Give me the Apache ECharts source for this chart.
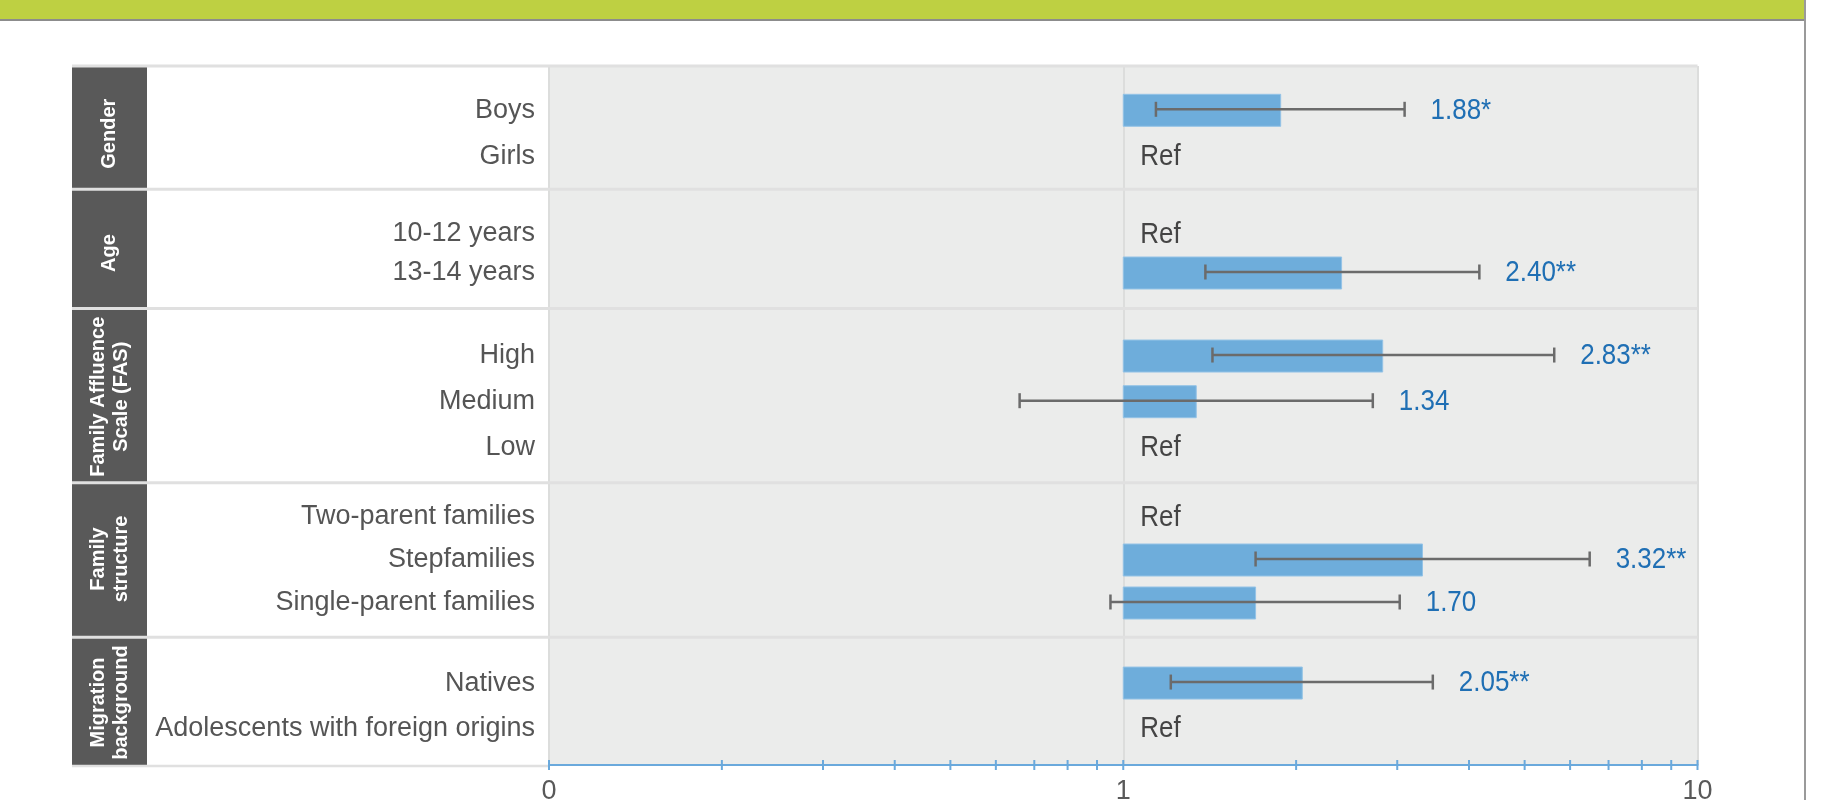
<!DOCTYPE html>
<html>
<head>
<meta charset="utf-8">
<script src="https://cdn.jsdelivr.net/npm/echarts@6/dist/echarts.min.js"></script>
<style>
html,body{margin:0;padding:0;background:#fff;}
#chart{width:1827px;height:800px;}
</style>
</head>
<body>
<div id="chart"></div>
<script>
// ---------- data ----------
const groupNames = ['Gender', 'Age', 'Family Affluence\nScale (FAS)', 'Family\nstructure', 'Migration\nbackground'];
const categories = ['Boys', 'Girls', '10-12 years', '13-14 years', 'High', 'Medium', 'Low',
  'Two-parent families', 'Stepfamilies', 'Single-parent families', 'Natives', 'Adolescents with foreign origins'];
const groupOf = [0, 0, 1, 1, 2, 2, 2, 3, 3, 3, 4, 4];
const oddsRatios = [1.88, 1, 1, 2.40, 2.83, 1.34, 1, 1, 3.32, 1.70, 2.05, 1];
const ciLow = [1.14, null, null, 1.39, 1.43, 0.66, null, null, 1.70, 0.95, 1.21, null];
const ciHigh = [3.09, null, null, 4.17, 5.63, 2.72, null, null, 6.49, 3.03, 3.46, null];
const valueLabels = ['1.88*', 'Ref', 'Ref', '2.40**', '2.83**', '1.34', 'Ref', 'Ref', '3.32**', '1.70', '2.05**', 'Ref'];
const axisTickValues = [0.1, 0.2, 0.3, 0.4, 0.5, 0.6, 0.7, 0.8, 0.9, 1, 2, 3, 4, 5, 6, 7, 8, 9, 10];
const axisTickLabels = ['0', '1', '10'];

// ---------- layout ----------
const W = 1827, H = 800;
const tableLeft = 72, labelColLeft = 147, plotLeft = 549, plotRight = 1697.5;
const tableTop = 66, axisY = 765;
const groupBounds = [66, 189.3, 308.5, 482.7, 637.3];
const rowGrids = [
  { top: 87.1, height: 92.8 },
  { top: 214.5, height: 78 },
  { top: 333.2, height: 137 },
  { top: 495.5, height: 129 },
  { top: 660.4, height: 90.6 }
];
const groupLabelCenters = [133.7, 253, 396.7, 559, 702.5];

const baseFont = '"Liberation Sans", Arial, Helvetica, sans-serif';
const condensedScale = 0.865;
const barColor = '#6eaddb';
const errColor = '#6b6b6b';
const valueColor = '#1f6fb4';
const axisBlue = '#6aa9dc';

const chart = echarts.init(document.getElementById('chart'), null, { renderer: 'canvas' });

const grids = [{ left: plotLeft, width: plotRight - plotLeft, top: tableTop, height: axisY - tableTop, containLabel: false, outerBoundsMode: 'none' }];
rowGrids.forEach(g => grids.push({ left: plotLeft, width: plotRight - plotLeft, top: g.top, height: g.height, containLabel: false, outerBoundsMode: 'none' }));

const xAxes = [{
  gridIndex: 0, type: 'log', logBase: 10, min: 0.1, max: 10,
  axisLine: { show: true, onZero: false, lineStyle: { color: axisBlue, width: 2 } },
  axisTick: { show: false },
  axisLabel: {
    show: true, color: '#595959', fontSize: 27, fontFamily: baseFont, margin: 13,
    formatter: (v, i) => axisTickLabels[i]
  },
  splitLine: { show: true, lineStyle: { color: '#dcdddc', width: 2 } }
}];
const yAxes = [{ gridIndex: 0, type: 'value', min: 0, max: 1, show: false }];

const series = [];
groupNames.forEach((name, gi) => {
  const rows = categories.map((c, k) => k).filter(k => groupOf[k] === gi);
  xAxes.push({ gridIndex: gi + 1, type: 'log', logBase: 10, min: 0.1, max: 10, show: false, splitLine: { show: false } });
  yAxes.push({
    gridIndex: gi + 1, type: 'category', inverse: true,
    data: rows.map(k => categories[k]),
    axisLine: { show: false }, axisTick: { show: false }, splitLine: { show: false },
    axisLabel: { show: true, color: '#555555', fontSize: 27, fontFamily: baseFont, margin: 14 }
  });
  series.push({
    type: 'custom', xAxisIndex: gi + 1, yAxisIndex: gi + 1,
    data: rows.map((k, j) => [oddsRatios[k], j]),
    encode: { x: 0, y: 1 },
    renderItem: (params, api) => {
      const k = rows[params.dataIndex];
      const j = api.value(1);
      const base = api.coord([1, j]);
      const yc = base[1];
      if (ciLow[k] === null) {
        return {
          type: 'text', x: base[0] + 17, y: yc + 0.5, scaleX: condensedScale,
          style: { text: valueLabels[k], fill: '#444444', fontSize: 30, fontFamily: baseFont, align: 'left', verticalAlign: 'middle' }
        };
      }
      const xe = api.coord([api.value(0), j])[0];
      const xl = api.coord([ciLow[k], j])[0];
      const xh = api.coord([ciHigh[k], j])[0];
      const ey = yc - 1;
      return {
        type: 'group',
        children: [
          { type: 'rect', shape: { x: base[0], y: yc - 16, width: xe - base[0], height: 32 },
            style: { fill: barColor, stroke: '#94c3e6', lineWidth: 1 } },
          { type: 'line', shape: { x1: xl, y1: ey, x2: xh, y2: ey }, style: { stroke: errColor, lineWidth: 2.5 } },
          { type: 'line', shape: { x1: xl, y1: ey - 7.5, x2: xl, y2: ey + 7.5 }, style: { stroke: errColor, lineWidth: 2.5 } },
          { type: 'line', shape: { x1: xh, y1: ey - 7.5, x2: xh, y2: ey + 7.5 }, style: { stroke: errColor, lineWidth: 2.5 } },
          { type: 'text', x: xh + 26, y: yc, scaleX: condensedScale,
            style: { text: valueLabels[k], fill: valueColor, fontSize: 30, fontFamily: baseFont, align: 'left', verticalAlign: 'middle' } }
        ]
      };
    },
    z: 3
  });
});

// axis ticks (major + minor) crossing the axis line
series.push({
  type: 'custom', xAxisIndex: 0, yAxisIndex: 0,
  data: axisTickValues.map(v => [v, 0]),
  encode: { x: 0, y: 1 },
  renderItem: (params, api) => {
    const p = api.coord([api.value(0), 0]);
    return { type: 'line', shape: { x1: p[0], y1: p[1] - 5, x2: p[0], y2: p[1] + 5 }, style: { stroke: axisBlue, lineWidth: 2 } };
  },
  z: 4
});

// ---------- decorative layout ----------
const graphics = [
  { type: 'rect', z: -10, shape: { x: 0, y: 0, width: 1804, height: 19 }, style: { fill: '#bed042' } },
  { type: 'rect', z: -10, shape: { x: 0, y: 19, width: 1804, height: 2 }, style: { fill: '#8c8c8c' } },
  { type: 'rect', z: -10, shape: { x: 1804, y: 0, width: 2, height: H }, style: { fill: '#9a9a9a' } },
  { type: 'rect', z: -10, shape: { x: labelColLeft, y: tableTop, width: plotLeft - labelColLeft, height: axisY - tableTop }, style: { fill: '#ffffff' } },
  { type: 'rect', z: -10, shape: { x: plotLeft, y: tableTop, width: plotRight - plotLeft, height: axisY - tableTop }, style: { fill: '#ebeceb' } },
  { type: 'rect', z: -9, shape: { x: tableLeft, y: tableTop, width: labelColLeft - tableLeft, height: axisY - tableTop }, style: { fill: '#595959' } },
  { type: 'line', z: 1, shape: { x1: tableLeft, y1: axisY + 1, x2: plotLeft, y2: axisY + 1 }, style: { stroke: '#e0e0e0', lineWidth: 2.5 } }
];
groupBounds.forEach(y => {
  graphics.push({ type: 'line', z: 1, shape: { x1: tableLeft, y1: y, x2: plotRight, y2: y },
    style: { stroke: '#e0e0e0', lineWidth: 3 } });
});
groupNames.forEach((name, gi) => {
  graphics.push({
    type: 'text', z: 5, x: (tableLeft + labelColLeft) / 2, y: groupLabelCenters[gi], rotation: Math.PI / 2,
    style: { text: name, fill: '#ffffff', fontSize: 20, fontWeight: 'bold', fontFamily: baseFont,
      align: 'center', verticalAlign: 'middle', lineHeight: 23 }
  });
});

chart.setOption({
  animation: false,
  backgroundColor: '#ffffff',
  grid: grids,
  xAxis: xAxes,
  yAxis: yAxes,
  series: series,
  graphic: { elements: graphics }
});
</script>
</body>
</html>
